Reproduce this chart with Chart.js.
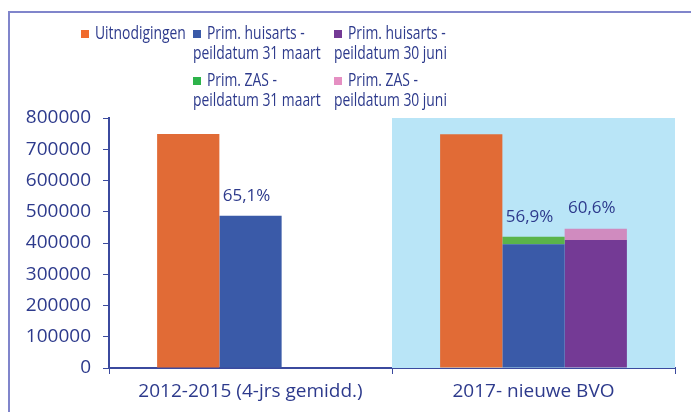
<!DOCTYPE html>
<html lang="nl">
<head>
<meta charset="UTF-8">
<title>Uitnodigingen en primaire deelname</title>
<script src="https://cdn.jsdelivr.net/npm/chart.js@4.4.1/dist/chart.umd.min.js"></script>
<style>
    html, body { margin: 0; padding: 0; background: #fff; }
    #wrap { position: relative; width: 691px; height: 412px; overflow: hidden; }
    #frame { position: absolute; left: 8px; top: 11px; width: 700px; height: 420px; border: 2px solid #8085cb; }
    #chart { position: absolute; left: 0; top: 0; }
</style>
</head>
<body>
<div id="wrap">
    <div id="frame"></div>
    <canvas id="chart" width="691" height="412"></canvas>
</div>
<script>
    // data
    const categories = ['2012-2015 (4-jrs gemidd.)', '2017- nieuwe BVO'];
    const uitnodigingen = [749000, 748000];
    const huisarts31mrt = [487000, 396000];
    const zas31mrt = [null, 24000];
    const huisarts30jun = [null, 410000];
    const zas30jun = [null, 36000];
    const yTicks = [0, 100000, 200000, 300000, 400000, 500000, 600000, 700000, 800000];
    // percentage labels: [category index, stack, text]
    const pctLabels = [[0, 'b', '65,1%'], [1, 'b', '56,9%'], [1, 'c', '60,6%']];

    const textBlue = '#2d3a8c';
    const axisBlue = '#3b4a9e';
    const font = '"Open Sans", sans-serif';

    // light blue box behind the 2017 group
    const highlight = {
        id: 'highlight',
        beforeDatasetsDraw(chart) {
            const { ctx, chartArea, scales } = chart;
            const x = scales.x;
            const left = (x.getPixelForValue(0) + x.getPixelForValue(1)) / 2;
            ctx.save();
            ctx.fillStyle = '#b9e5f7';
            ctx.fillRect(left, chartArea.top, chartArea.right - left, chartArea.bottom - chartArea.top);
            ctx.restore();
        }
    };

    // percentages above the stacks
    const pctPlugin = {
        id: 'pct',
        afterDatasetsDraw(chart) {
            const { ctx } = chart;
            ctx.save();
            ctx.font = '17px ' + font;
            ctx.fillStyle = textBlue;
            ctx.textAlign = 'center';
            ctx.textBaseline = 'middle';
            pctLabels.forEach(([i, stack, txt]) => {
                let top = null, cx = null;
                chart.data.datasets.forEach((ds, d) => {
                    if (ds.stack !== stack || ds.data[i] == null) return;
                    const bar = chart.getDatasetMeta(d).data[i];
                    if (top === null || bar.y < top) { top = bar.y; cx = bar.x; }
                });
                ctx.fillText(txt, cx - 4, top - 20);
            });
            ctx.restore();
        }
    };

    // legend in three columns, labels wrapping under the box (narrow text)
    const squeeze = 0.75;
    const legendPlugin = {
        id: 'legendGrid',
        afterDraw(chart) {
            const { ctx } = chart;
            const cells = [
                [0, 81, 30], [1, 193, 30], [3, 334, 30],
                [2, 193, 77], [4, 334, 77]
            ];
            ctx.save();
            ctx.font = '500 18.5px ' + font;
            ctx.textBaseline = 'middle';
            cells.forEach(([d, x, y]) => {
                const ds = chart.data.datasets[d];
                const lines = ds.legendLines;
                ctx.fillStyle = ds.legendColor || ds.backgroundColor;
                ctx.fillRect(x, y, 8, 8);
                ctx.fillStyle = textBlue;
                ctx.save();
                ctx.translate(x, y);
                ctx.scale(squeeze, 1);
                ctx.fillText(lines[0], 14 / squeeze, 4);
                if (lines[1]) ctx.fillText(lines[1], 0, 24);
                ctx.restore();
            });
            ctx.restore();
        }
    };

    new Chart(document.getElementById('chart'), {
        type: 'bar',
        data: {
            labels: categories,
            datasets: [
                { label: 'Uitnodigingen', legendLines: ['Uitnodigingen'], data: uitnodigingen, stack: 'a', backgroundColor: '#e16b36', legendColor: '#f06b2d' },
                { label: 'Prim. huisarts - peildatum 31 maart', legendLines: ['Prim. huisarts -', 'peildatum 31 maart'], data: huisarts31mrt, stack: 'b', backgroundColor: '#3a5aa8' },
                { label: 'Prim. ZAS - peildatum 31 maart', legendLines: ['Prim. ZAS -', 'peildatum 31 maart'], data: zas31mrt, stack: 'b', backgroundColor: '#5ab44a', legendColor: '#2db34a' },
                { label: 'Prim. huisarts - peildatum 30 juni', legendLines: ['Prim. huisarts -', 'peildatum 30 juni'], data: huisarts30jun, stack: 'c', backgroundColor: '#743a95' },
                { label: 'Prim. ZAS - peildatum 30 juni', legendLines: ['Prim. ZAS -', 'peildatum 30 juni'], data: zas30jun, stack: 'c', backgroundColor: '#d08bbf', legendColor: '#e58fc2' }
            ]
        },
        options: {
            responsive: false,
            animation: false,
            categoryPercentage: 0.66,
            barPercentage: 1,
            layout: { padding: { top: 118, right: 16, bottom: 0, left: 0 } },
            plugins: { legend: { display: false }, tooltip: { enabled: false } },
            scales: {
                x: {
                    stacked: true,
                    border: { color: axisBlue, width: 2 },
                    grid: { drawOnChartArea: false, color: axisBlue, tickLength: 6, offset: true },
                    ticks: { color: textBlue, font: { family: font, size: 19 }, padding: 6 },
                    afterFit(s) { s.height = 44; }
                },
                y: {
                    stacked: true,
                    min: 0,
                    max: 800000,
                    border: { color: axisBlue, width: 2 },
                    grid: { drawOnChartArea: false, color: axisBlue, tickLength: 6 },
                    afterBuildTicks(s) { s.ticks = yTicks.map(v => ({ value: v })); },
                    ticks: { color: textBlue, font: { family: font, size: 19 }, padding: 12, callback: v => String(v) },
                    afterFit(s) { s.width = 109; }
                }
            }
        },
        plugins: [highlight, pctPlugin, legendPlugin]
    });
</script>
</body>
</html>
